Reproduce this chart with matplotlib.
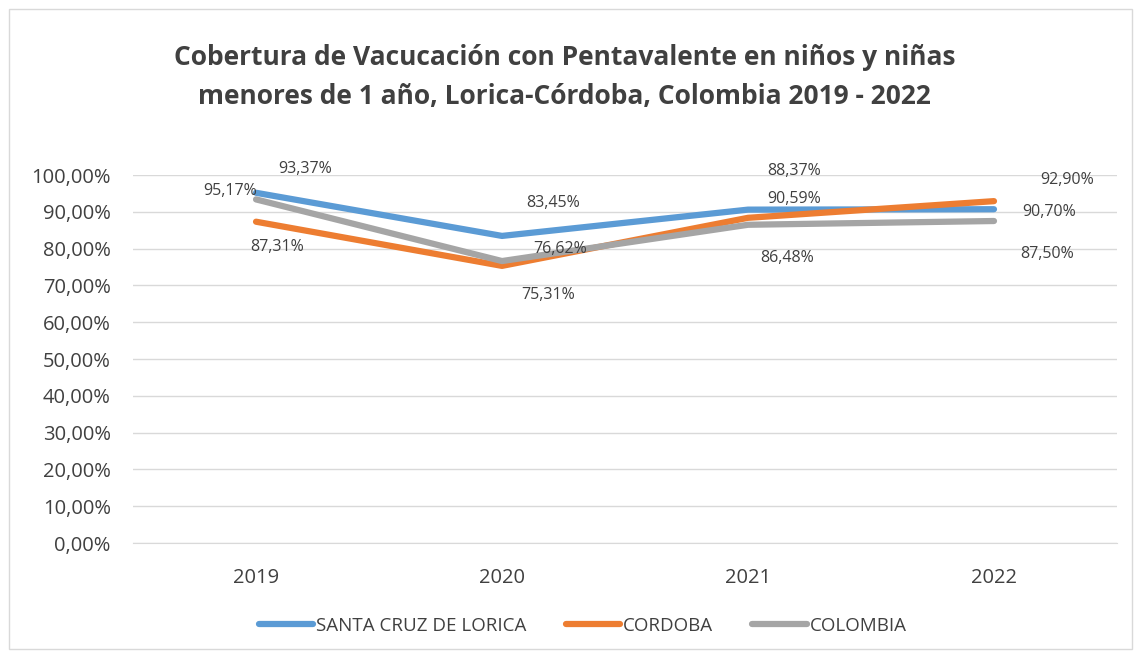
import matplotlib.pyplot as plt
from matplotlib.patches import Rectangle
from matplotlib.ticker import FuncFormatter

years = ['2019', '2020', '2021', '2022']
lorica = [95.17, 83.45, 90.59, 90.70]
cordoba = [87.31, 75.31, 88.37, 92.90]
colombia = [93.37, 76.62, 86.48, 87.50]

series = [
    ('SANTA CRUZ DE LORICA', lorica, '#5B9BD5'),
    ('CORDOBA', cordoba, '#ED7D31'),
    ('COLOMBIA', colombia, '#A5A5A5'),
]

# label offsets in points (dx, dy), one per point, like the excel placement
label_offsets = {
    'SANTA CRUZ DE LORICA': [(-19, 1), (37, 24), (33, 8), (40, -2)],
    'CORDOBA': [(15, -18), (33, -21), (33, 34), (53, 15)],
    'COLOMBIA': [(35, 22), (42, 9), (28, -24), (38, -24)],
}

plt.rcParams['font.family'] = ['Open Sans', 'DejaVu Sans']
txt = '#404040'

fig = plt.figure(figsize=(11.4, 6.54), dpi=100)
ax = fig.add_axes([0.1167, 0.1697, 0.8631, 0.5627])

x = range(len(years))
for name, vals, col in series:
    ax.plot(x, [v / 100 for v in vals], color=col, lw=4.5, solid_capstyle='round',
            solid_joinstyle='round', label=name)
    for i, v in enumerate(vals):
        dx, dy = label_offsets[name][i]
        ax.annotate(f'{v:.2f}%'.replace('.', ','), (i, v / 100), xytext=(dx, dy),
                    textcoords='offset points', ha='center', va='center',
                    fontsize=11.5, color=txt)

ax.set_xlim(-0.5, 3.5)
ax.set_ylim(0, 1)
ax.set_yticks([i / 10 for i in range(11)])
ax.yaxis.set_major_formatter(FuncFormatter(lambda v, p: f'{v * 100:.2f}%'.replace('.', ',')))
ax.set_xticks(list(x))
ax.set_xticklabels(years)
ax.grid(axis='y', color='#D9D9D9', lw=1)
ax.set_axisbelow(True)
for s in ['top', 'right', 'left']:
    ax.spines[s].set_visible(False)
ax.spines['bottom'].set_color('#D9D9D9')
ax.tick_params(length=0, labelsize=14.5, colors=txt)
ax.tick_params(axis='x', pad=18)
ax.tick_params(axis='y', pad=16)

fig.text(0.495, 0.882, 'Cobertura de Vacucación con Pentavalente en niños y niñas\n'
         'menores de 1 año, Lorica-Córdoba, Colombia 2019 - 2022',
         ha='center', va='center', fontsize=19, fontweight='bold', color=txt,
         linespacing=1.6)

fig.legend(loc='center', bbox_to_anchor=(0.511, 0.043), ncol=3, frameon=False,
           fontsize=13.5, handlelength=2.9, handletextpad=0.15, columnspacing=2.1,
           labelcolor=txt)

fig.patches.append(Rectangle((0.008, 0.008), 0.985, 0.978, transform=fig.transFigure,
                             fill=False, edgecolor='#D9D9D9', lw=1))

fig.savefig('out.png', dpi=100)
